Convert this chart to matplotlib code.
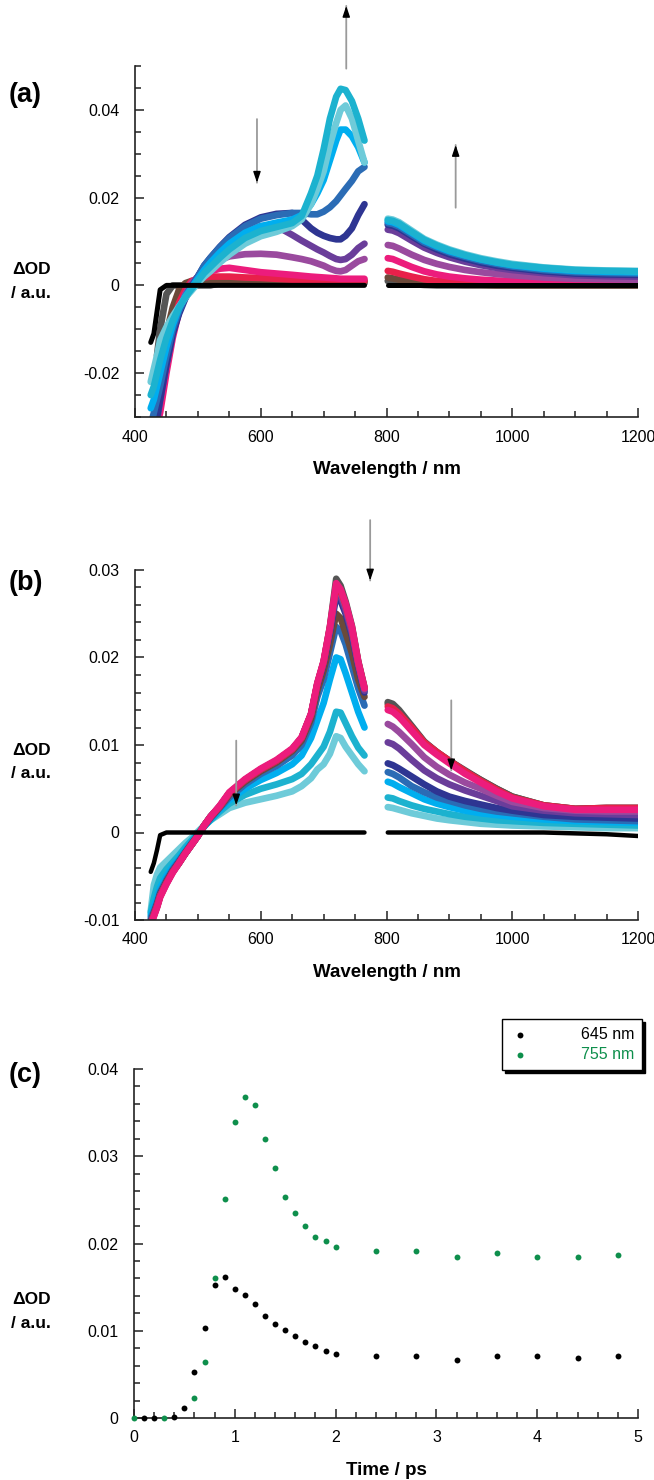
import numpy as np
import matplotlib
matplotlib.use("Agg")
import matplotlib.pyplot as plt
from matplotlib.ticker import MultipleLocator, FuncFormatter

plt.rcParams['font.family'] = ['Liberation Sans', 'DejaVu Sans']

# ---------------- data ----------------
WL_VIS = [425, 430, 435, 440, 450, 460, 470, 480, 490, 500, 510, 520, 535, 550, 575,
          600, 625, 650, 665, 680, 690, 700, 710, 720, 727, 735, 745, 755, 765]
WL_NIR = [802, 810, 820, 840, 860, 880, 900, 925, 950, 975, 1000, 1050, 1100, 1150, 1200]
nan = np.nan

COLORS = {
    'black': '#000000', 'gray': '#555555', 'brown': '#6b4a3a', 'red': '#e8204a',
    'pink': '#ec1c7c', 'purple': '#9a4a9e', 'darkpurple': '#6a3d9a', 'navy': '#2e3592',
    'blue': '#2b6cb5', 'skyblue': '#00aeef', 'cyan': '#1cb2cf', 'lightcyan': '#6ecbd9',
}

# Panel (a) – rise of the spectra (visible part)
A_VIS = {
    'gray': [nan, nan, -0.016, -0.010, -0.002, 0, 0, 0, 0, 0, 0, 0, 0.0005, 0.0005, 0.0005,
             0.0005, 0.0005, 0.0005, 0.0005, 0.0005, 0.0005, 0.0005, 0.0005, 0.0005, 0.0005, 0.0005, 0.0005, 0.0005, 0.0005],
    'brown': [nan, nan, nan, -0.020, -0.011, -0.005, -0.001, 0.0005, 0.001, 0.001, 0.001, 0.001, 0.001, 0.001, 0.001,
              0.001, 0.001, 0.001, 0.001, 0.001, 0.001, 0.001, 0.001, 0.001, 0.001, 0.001, 0.001, 0.001, 0.001],
    'red': [nan, nan, nan, -0.028, -0.018, -0.009, -0.004, -0.001, 0.001, 0.0015, 0.0018, 0.002, 0.002, 0.002, 0.0018,
            0.0017, 0.0015, 0.0013, 0.0012, 0.0012, 0.0011, 0.0011, 0.0011, 0.001, 0.001, 0.001, 0.001, 0.001, 0.001],
    'pink': [nan, nan, -0.032, -0.029, -0.020, -0.012, -0.006, -0.002, 0.0005, 0.0015, 0.0025, 0.0032, 0.0038, 0.004, 0.0035,
             0.003, 0.0027, 0.0024, 0.0022, 0.002, 0.0019, 0.0018, 0.0017, 0.0016, 0.0015, 0.0015, 0.0015, 0.0015, 0.0015],
    'purple': [nan, -0.034, -0.030, -0.026, -0.018, -0.011, -0.006, -0.002, 0.0005, 0.002, 0.0035, 0.0045, 0.0058, 0.0066, 0.0071,
               0.0072, 0.007, 0.0064, 0.006, 0.0055, 0.005, 0.0045, 0.0038, 0.0033, 0.0032, 0.0035, 0.0045, 0.0055, 0.006],
    'darkpurple': [nan, -0.034, -0.031, -0.026, -0.018, -0.011, -0.006, -0.0025, 0.0, 0.002, 0.0042, 0.0058, 0.008, 0.0098, 0.012,
                   0.0135, 0.0135, 0.0115, 0.0102, 0.009, 0.0082, 0.0075, 0.0067, 0.006, 0.0058, 0.006, 0.007, 0.0085, 0.0095],
    'navy': [nan, -0.033, -0.030, -0.026, -0.018, -0.011, -0.0065, -0.003, -0.0005, 0.002, 0.0045, 0.0063, 0.0088, 0.011, 0.0138,
             0.0155, 0.0163, 0.0165, 0.015, 0.013, 0.012, 0.0113, 0.0108, 0.0105, 0.0105, 0.0113, 0.013, 0.016, 0.0185],
    'blue': [-0.032, -0.029, -0.026, -0.023, -0.016, -0.010, -0.0058, -0.0028, -0.0005, 0.002, 0.0045, 0.0063, 0.0087, 0.0108, 0.0135,
             0.0152, 0.016, 0.0165, 0.0165, 0.0162, 0.0162, 0.0168, 0.0178, 0.0192, 0.0205, 0.022, 0.0238, 0.026, 0.027],
    'skyblue': [-0.028, -0.026, -0.023, -0.020, -0.014, -0.009, -0.0052, -0.0025, -0.0005, 0.0015, 0.0035, 0.0052, 0.0075, 0.0095, 0.012,
                0.0135, 0.0143, 0.015, 0.016, 0.0185, 0.021, 0.024, 0.0285, 0.033, 0.0355, 0.0355, 0.034, 0.0315, 0.028],
    'lightcyan': [-0.022, -0.019, -0.016, -0.0125, -0.0095, -0.007, -0.0048, -0.0028, -0.0012, 0.0005, 0.002, 0.0032, 0.0052, 0.007, 0.0095,
                  0.0112, 0.0122, 0.0135, 0.015, 0.0185, 0.022, 0.026, 0.032, 0.037, 0.040, 0.041, 0.038, 0.033, 0.028],
    'cyan': [-0.025, -0.023, -0.020, -0.017, -0.012, -0.008, -0.005, -0.0027, -0.0008, 0.001, 0.0028, 0.0042, 0.0063, 0.0082, 0.0108,
             0.0124, 0.0133, 0.0142, 0.0158, 0.021, 0.025, 0.031, 0.038, 0.043, 0.0448, 0.0445, 0.042, 0.038, 0.033],
    'black': [-0.013, -0.011, -0.006, -0.001, 0, 0, 0, 0, 0, 0, 0, 0, 0, 0, 0,
              0, 0, 0, 0, 0, 0, 0, 0, 0, 0, 0, 0, 0, 0],
}
A_NIR = {
    'gray': [0.001, 0.0008, 0.0006, 0.0003, 0.0001, 0, 0, 0, 0, 0, 0, 0, 0, 0, 0],
    'brown': [0.0018, 0.0016, 0.0013, 0.0008, 0.0005, 0.0003, 0.0002, 0.0001, 0.0001, 0, 0, 0, 0, 0, 0],
    'red': [0.0033, 0.0031, 0.0027, 0.002, 0.0014, 0.001, 0.0008, 0.0006, 0.0005, 0.0004, 0.0004, 0.0003, 0.0003, 0.0003, 0.0003],
    'pink': [0.0062, 0.006, 0.0054, 0.0042, 0.0032, 0.0025, 0.002, 0.0016, 0.0013, 0.0011, 0.001, 0.0008, 0.0007, 0.0007, 0.0007],
    'purple': [0.0092, 0.009, 0.0084, 0.007, 0.0058, 0.0049, 0.0042, 0.0035, 0.003, 0.0026, 0.0023, 0.0018, 0.0015, 0.0014, 0.0013],
    'darkpurple': [0.0127, 0.0125, 0.0119, 0.0102, 0.0086, 0.0074, 0.0064, 0.0054, 0.0046, 0.004, 0.0035, 0.0028, 0.0023, 0.0021, 0.002],
    'navy': [0.0138, 0.0136, 0.013, 0.0112, 0.0095, 0.0082, 0.0071, 0.0061, 0.0052, 0.0045, 0.004, 0.0032, 0.0027, 0.0025, 0.0024],
    'blue': [0.0142, 0.014, 0.0134, 0.0116, 0.0098, 0.0086, 0.0075, 0.0065, 0.0056, 0.0049, 0.0043, 0.0035, 0.003, 0.0028, 0.0027],
    'skyblue': [0.0146, 0.0144, 0.0138, 0.012, 0.0102, 0.0089, 0.0078, 0.0068, 0.0059, 0.0052, 0.0046, 0.0038, 0.0033, 0.0031, 0.003],
    'lightcyan': [0.0152, 0.015, 0.0144, 0.0125, 0.0106, 0.0093, 0.0082, 0.0071, 0.0062, 0.0055, 0.0049, 0.0041, 0.0036, 0.0034, 0.0033],
    'cyan': [0.0149, 0.0147, 0.0141, 0.0122, 0.0104, 0.0091, 0.008, 0.0069, 0.006, 0.0053, 0.0047, 0.004, 0.0035, 0.0033, 0.0032],
    'black': [0, 0, 0, 0, 0, 0, 0, 0, 0, 0, 0, 0, 0, 0, 0],
}

# Panel (b) – decay of the spectra
B_VIS = {
    'lightcyan': [-0.009, -0.006, -0.0048, -0.004, -0.0033, -0.0026, -0.0019, -0.0012, -0.0006, 0.0001, 0.0008, 0.0014, 0.0021, 0.0028, 0.0034,
                  0.0038, 0.0042, 0.0047, 0.0053, 0.0062, 0.0072, 0.0078, 0.009, 0.011, 0.0108, 0.0098, 0.0088, 0.0078, 0.007],
    'cyan': [-0.0092, -0.0075, -0.0062, -0.0052, -0.0042, -0.0034, -0.0026, -0.0017, -0.0009, -0.0001, 0.0007, 0.0014, 0.0024, 0.0033, 0.0043,
             0.005, 0.0055, 0.0061, 0.0067, 0.0078, 0.0088, 0.0098, 0.0115, 0.0138, 0.0137, 0.0125, 0.011, 0.0097, 0.0088],
    'skyblue': [-0.0095, -0.0085, -0.0075, -0.0063, -0.005, -0.0039, -0.003, -0.002, -0.0011, -0.0002, 0.0007, 0.0015, 0.0026, 0.0037, 0.005,
                0.006, 0.0068, 0.0078, 0.0088, 0.0108, 0.0128, 0.0148, 0.0175, 0.02, 0.0198, 0.0182, 0.016, 0.0138, 0.012],
    'blue': [-0.0098, -0.009, -0.008, -0.0068, -0.0054, -0.0042, -0.0032, -0.0022, -0.0012, -0.0003, 0.0007, 0.0016, 0.0028, 0.004, 0.0055,
             0.0067, 0.0076, 0.0088, 0.01, 0.0125, 0.0155, 0.0175, 0.0205, 0.0235, 0.023, 0.0215, 0.019, 0.0165, 0.0145],
    'brown': [-0.0102, -0.0092, -0.0082, -0.007, -0.0056, -0.0044, -0.0034, -0.0023, -0.0013, -0.0003, 0.0008, 0.0017, 0.0029, 0.0043, 0.0058,
              0.007, 0.008, 0.0093, 0.0105, 0.013, 0.0162, 0.0185, 0.0215, 0.025, 0.0245, 0.0228, 0.0205, 0.0175, 0.0155],
    'navy': [-0.0103, -0.0093, -0.0083, -0.0071, -0.0057, -0.0044, -0.0034, -0.0024, -0.0014, -0.0004, 0.0008, 0.0018, 0.003, 0.0045, 0.006,
             0.0072, 0.0082, 0.0095, 0.0108, 0.0135, 0.0168, 0.0192, 0.0228, 0.027, 0.0265, 0.025, 0.0225, 0.019, 0.016],
    'darkpurple': [-0.0104, -0.0094, -0.0084, -0.0072, -0.0058, -0.0045, -0.0035, -0.0024, -0.0014, -0.0004, 0.0008, 0.0018, 0.003, 0.0045, 0.006,
                   0.0072, 0.0082, 0.0095, 0.0108, 0.0135, 0.0169, 0.0194, 0.0231, 0.0275, 0.027, 0.0254, 0.0228, 0.0192, 0.0162],
    'purple': [-0.0104, -0.0094, -0.0084, -0.0072, -0.0058, -0.0045, -0.0035, -0.0024, -0.0014, -0.0004, 0.0008, 0.0018, 0.003, 0.0045, 0.006,
               0.0072, 0.0082, 0.0095, 0.0108, 0.0135, 0.017, 0.0195, 0.0233, 0.028, 0.0274, 0.0258, 0.0232, 0.0194, 0.0164],
    'red': [-0.0105, -0.0095, -0.0085, -0.0073, -0.0058, -0.0045, -0.0035, -0.0024, -0.0014, -0.0004, 0.0008, 0.0018, 0.003, 0.0045, 0.006,
            0.0072, 0.0082, 0.0095, 0.0108, 0.0135, 0.017, 0.0195, 0.0234, 0.0282, 0.0276, 0.026, 0.0234, 0.0195, 0.0165],
    'gray': [-0.0105, -0.0095, -0.0085, -0.0073, -0.0058, -0.0045, -0.0035, -0.0024, -0.0014, -0.0004, 0.0008, 0.0018, 0.003, 0.0045, 0.006,
             0.0072, 0.0082, 0.0095, 0.0108, 0.0135, 0.017, 0.0195, 0.0235, 0.029, 0.0282, 0.0264, 0.0236, 0.0196, 0.0166],
    'pink': [-0.0106, -0.0096, -0.0086, -0.0074, -0.0059, -0.0046, -0.0035, -0.0024, -0.0014, -0.0004, 0.0008, 0.0018, 0.0031, 0.0046, 0.0061,
             0.0073, 0.0083, 0.0096, 0.0109, 0.0136, 0.0171, 0.0196, 0.0235, 0.0285, 0.0278, 0.0262, 0.0235, 0.0195, 0.0165],
    'black': [-0.0045, -0.0035, -0.002, -0.0003, 0, 0, 0, 0, 0, 0, 0, 0, 0, 0, 0,
              0, 0, 0, 0, 0, 0, 0, 0, 0, 0, 0, 0, 0, 0],
}
B_NIR = {
    'lightcyan': [0.0029, 0.0028, 0.0026, 0.0022, 0.0019, 0.0016, 0.0014, 0.0012, 0.001, 0.0009, 0.0008, 0.0007, 0.0006, 0.0005, 0.0005],
    'cyan': [0.004, 0.0039, 0.0036, 0.0031, 0.0027, 0.0024, 0.0021, 0.0018, 0.0016, 0.0014, 0.0013, 0.0011, 0.001, 0.0009, 0.0008],
    'skyblue': [0.0058, 0.0056, 0.0052, 0.0045, 0.0038, 0.0033, 0.0029, 0.0025, 0.0022, 0.002, 0.0018, 0.0015, 0.0013, 0.0012, 0.0011],
    'blue': [0.0069, 0.0067, 0.0063, 0.0053, 0.0046, 0.004, 0.0036, 0.0031, 0.0027, 0.0024, 0.0022, 0.0018, 0.0015, 0.0014, 0.0013],
    'brown': [0.0147, 0.0145, 0.0138, 0.0121, 0.0103, 0.0092, 0.0082, 0.007, 0.006, 0.005, 0.0041, 0.0031, 0.0027, 0.0028, 0.0028],
    'navy': [0.0079, 0.0077, 0.0073, 0.0064, 0.0055, 0.0047, 0.0041, 0.0036, 0.0032, 0.0028, 0.0025, 0.002, 0.0018, 0.0017, 0.0016],
    'darkpurple': [0.0103, 0.0101, 0.0096, 0.0083, 0.0071, 0.0062, 0.0055, 0.0048, 0.0042, 0.0036, 0.003, 0.0025, 0.0022, 0.0021, 0.002],
    'purple': [0.0124, 0.0121, 0.0115, 0.0101, 0.0086, 0.0075, 0.0066, 0.0057, 0.005, 0.0042, 0.0035, 0.0028, 0.0025, 0.0024, 0.0024],
    'red': [0.0144, 0.0142, 0.0136, 0.012, 0.0103, 0.0092, 0.0082, 0.007, 0.0059, 0.0049, 0.004, 0.0031, 0.0027, 0.0028, 0.0028],
    'gray': [0.0149, 0.0147, 0.014, 0.0122, 0.0104, 0.0092, 0.0082, 0.0071, 0.006, 0.005, 0.0041, 0.0031, 0.0027, 0.0028, 0.0028],
    'pink': [0.014, 0.0138, 0.0132, 0.0116, 0.01, 0.0089, 0.0079, 0.0067, 0.0057, 0.0047, 0.0039, 0.003, 0.0026, 0.0026, 0.0026],
    'black': [0, 0, 0, 0, 0, 0, 0, 0, 0, 0, 0, 0, -0.0001, -0.0002, -0.0004],
}

# Panel (c) – kinetics
T_645 = [0.1, 0.2, 0.4, 0.5, 0.6, 0.7, 0.8, 0.9, 1.0, 1.1, 1.2, 1.3, 1.4, 1.5, 1.6, 1.7, 1.8, 1.9, 2.0,
         2.4, 2.8, 3.2, 3.6, 4.0, 4.4, 4.8]
OD_645 = [0.0, 0.0, 0.0001, 0.0011, 0.0053, 0.0103, 0.0152, 0.0162, 0.0148, 0.0141, 0.0131, 0.0117, 0.0108,
          0.0101, 0.0094, 0.0087, 0.0082, 0.0077, 0.0073, 0.0071, 0.0071, 0.0066, 0.0071, 0.0071, 0.0069, 0.0071]
T_755 = [0.0, 0.3, 0.6, 0.7, 0.8, 0.9, 1.0, 1.1, 1.2, 1.3, 1.4, 1.5, 1.6, 1.7, 1.8, 1.9, 2.0,
         2.4, 2.8, 3.2, 3.6, 4.0, 4.4, 4.8]
OD_755 = [0.0, 0.0, 0.0023, 0.0064, 0.016, 0.0251, 0.0339, 0.0368, 0.0359, 0.032, 0.0287, 0.0253, 0.0235,
          0.022, 0.0208, 0.0203, 0.0196, 0.0191, 0.0191, 0.0184, 0.0189, 0.0184, 0.0185, 0.0187]
LEGEND = ['645 nm', '755 nm']
GREEN = '#0e8f4c'

ORDER_A = ['gray', 'brown', 'red', 'pink', 'purple', 'darkpurple', 'navy', 'blue', 'skyblue', 'lightcyan', 'cyan']
ORDER_B = ['lightcyan', 'cyan', 'skyblue', 'blue', 'brown', 'navy', 'darkpurple', 'purple', 'gray', 'red', 'pink']

# ---------------- figure ----------------
W, H = 654, 1480
fig = plt.figure(figsize=(W / 100, H / 100), dpi=100)


def px_axes(x0, x1, ytop, ybot):
    return fig.add_axes([x0 / W, 1 - ybot / H, (x1 - x0) / W, (ybot - ytop) / H])


fmt = FuncFormatter(lambda v, p: ('%g' % round(v, 4)) if abs(v) > 1e-9 else '0')


def style(ax, xmaj, xmin, ymaj, ymin):
    for s in ('top', 'right'):
        ax.spines[s].set_visible(False)
    for s in ('left', 'bottom'):
        ax.spines[s].set_linewidth(1.2)
        ax.spines[s].set_color('#222222')
    ax.xaxis.set_major_locator(MultipleLocator(xmaj))
    ax.xaxis.set_minor_locator(MultipleLocator(xmin))
    ax.yaxis.set_major_locator(MultipleLocator(ymaj))
    ax.yaxis.set_minor_locator(MultipleLocator(ymin))
    ax.yaxis.set_major_formatter(fmt)
    ax.xaxis.set_major_formatter(fmt)
    ax.tick_params(which='both', direction='in', width=1.1, color='#222222', labelsize=11.5)
    ax.tick_params(which='major', length=6.5)
    ax.tick_params(which='minor', length=4.5)
    ax.tick_params(axis='y', which='major', pad=11)
    ax.tick_params(axis='x', which='major', pad=9)
    ax.patch.set_alpha(0)


def arrow(ax, x, y0, y1):
    ax.annotate('', xy=(x, y1), xytext=(x, y0), annotation_clip=False,
                arrowprops=dict(arrowstyle='-', color='#9a9a9a', lw=1.3, shrinkA=0, shrinkB=0))
    d = (y1 - y0) * 0.16
    ax.annotate('', xy=(x, y1), xytext=(x, y1 - d), annotation_clip=False,
                arrowprops=dict(arrowstyle='-|>,head_length=0.65,head_width=0.22', color='k',
                                lw=1, shrinkA=0, shrinkB=0))


LW = 4.8

# ---- (a) ----
axa = px_axes(135, 638, 66, 417)
for k in ORDER_A:
    for wl, d in ((WL_VIS, A_VIS), (WL_NIR, A_NIR)):
        axa.plot(wl, d[k], color=COLORS[k], lw=LW, solid_capstyle='round', solid_joinstyle='round')
for wl, d in ((WL_VIS, A_VIS), (WL_NIR, A_NIR)):
    axa.plot(wl, d['black'], color='k', lw=3.6, solid_capstyle='round', zorder=5)
axa.set_xlim(400, 1200)
axa.set_ylim(-0.03, 0.05)
style(axa, 200, 50, 0.02, 0.005)
axa.set_xlabel('Wavelength / nm', fontsize=13.5, fontweight='bold', labelpad=12)
arrow(axa, 594, 0.0379, 0.0234)
arrow(axa, 736, 0.0494, 0.0637)
arrow(axa, 910, 0.0177, 0.032)

# ---- (b) ----
axb = px_axes(135, 638, 570, 920)
for k in ORDER_B:
    for wl, d in ((WL_VIS, B_VIS), (WL_NIR, B_NIR)):
        axb.plot(wl, d[k], color=COLORS[k], lw=LW, solid_capstyle='round', solid_joinstyle='round')
for wl, d in ((WL_VIS, B_VIS), (WL_NIR, B_NIR)):
    axb.plot(wl, d['black'], color='k', lw=3.2, solid_capstyle='round', zorder=5)
axb.set_xlim(400, 1200)
axb.set_ylim(-0.01, 0.03)
style(axb, 200, 50, 0.01, 0.002)
axb.set_xlabel('Wavelength / nm', fontsize=13.5, fontweight='bold', labelpad=12)
arrow(axb, 774, 0.0357, 0.0288)
arrow(axb, 561, 0.0105, 0.0031)
arrow(axb, 903, 0.0151, 0.0071)

# ---- (c) ----
axc = px_axes(134, 638, 1069, 1418)
axc.scatter(T_645, OD_645, s=18, color='k', linewidths=0, label=LEGEND[0], zorder=3)
axc.scatter(T_755, OD_755, s=18, color=GREEN, linewidths=0, label=LEGEND[1], zorder=4)
axc.set_xlim(0, 5)
axc.set_ylim(0, 0.04)
style(axc, 1, 0.2, 0.01, 0.002)
axc.set_xlabel('Time / ps', fontsize=13.5, fontweight='bold', labelpad=12)
for c in axc.collections:
    c.set_clip_on(False)

leg = axc.legend(loc='upper right', bbox_to_anchor=(642 / W, 1 - 1019 / H),
                 bbox_transform=fig.transFigure, frameon=True, fancybox=False,
                 shadow={'color': 'k', 'alpha': 1}, fontsize=11.5, markerscale=1.0,
                 handletextpad=3.2, borderpad=0.5, labelspacing=0.3, handlelength=1.2,
                 borderaxespad=0)
leg.get_frame().set_edgecolor('k')
leg.get_frame().set_linewidth(1.0)
leg.texts[0].set_color('k')
leg.texts[1].set_color(GREEN)

# ---- panel labels and y labels ----
for lab, y in (('(a)', 95), ('(b)', 583), ('(c)', 1075)):
    fig.text(9 / W, 1 - y / H, lab, fontsize=19.5, fontweight='bold', va='center', ha='left')
for y in (270, 750, 1300):
    fig.text(12 / W, 1 - y / H, '\u0394OD', fontsize=12.5, fontweight='bold', va='center', ha='left')
    fig.text(11 / W, 1 - (y + 23) / H, '/ a.u.', fontsize=12.5, fontweight='bold', va='center', ha='left')

fig.savefig('out.png', dpi=100)
